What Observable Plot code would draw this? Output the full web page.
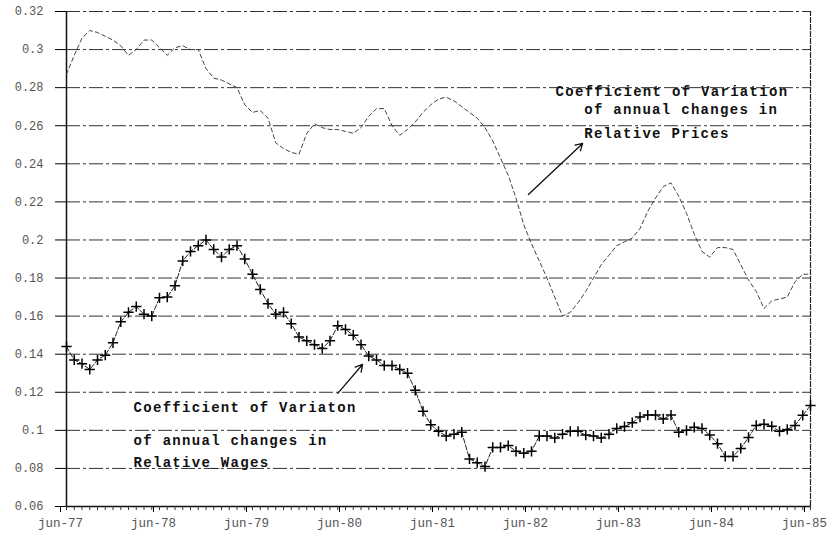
<!DOCTYPE html>
<html>
<head>
<meta charset="utf-8">
<script src="https://cdn.jsdelivr.net/npm/d3@7"></script>
<script src="https://cdn.jsdelivr.net/npm/@observablehq/plot@0.6"></script>
<style>
  html, body { margin: 0; padding: 0; background: #fff; }
  #chart svg { display: block; background: #fff; }
</style>
</head>
<body>
<div id="chart"></div>
<script>
// Monthly observations, jun-77 (index 0) to jun-85 (index 96)
const monthIndex = d3.range(97);

const relativePrices = [
  0.287, 0.297, 0.306, 0.310, 0.309, 0.307, 0.305, 0.302, 0.297, 0.300,
  0.305, 0.305, 0.301, 0.297, 0.301, 0.302, 0.300, 0.300, 0.290, 0.285,
  0.284, 0.282, 0.280, 0.271, 0.267, 0.268, 0.264, 0.251, 0.248, 0.246,
  0.245, 0.256, 0.261, 0.259, 0.258, 0.258, 0.257, 0.256, 0.259, 0.265,
  0.269, 0.269, 0.260, 0.255, 0.258, 0.262, 0.267, 0.271, 0.274, 0.275,
  0.273, 0.270, 0.267, 0.264, 0.259, 0.252, 0.243, 0.234, 0.222, 0.208,
  0.198, 0.189, 0.180, 0.170, 0.160, 0.162, 0.167, 0.173, 0.180, 0.187,
  0.192, 0.197, 0.199, 0.201, 0.206, 0.215, 0.222, 0.228, 0.230, 0.223,
  0.214, 0.203, 0.194, 0.191, 0.196, 0.196, 0.195, 0.187, 0.179, 0.173,
  0.164, 0.168, 0.169, 0.170, 0.178, 0.182, 0.182
];

const relativeWages = [
  0.144, 0.137, 0.135, 0.132, 0.137, 0.1395, 0.146, 0.157, 0.162, 0.165,
  0.161, 0.160, 0.1696, 0.170, 0.176, 0.189, 0.194, 0.197, 0.200, 0.195,
  0.191, 0.195, 0.197, 0.190, 0.182, 0.174, 0.1665, 0.161, 0.162, 0.156,
  0.149, 0.147, 0.145, 0.143, 0.147, 0.155, 0.153, 0.150, 0.145, 0.139,
  0.137, 0.134, 0.134, 0.132, 0.130, 0.121, 0.110, 0.103, 0.0995, 0.097,
  0.098, 0.099, 0.085, 0.083, 0.081, 0.091, 0.091, 0.092, 0.089, 0.088,
  0.089, 0.097, 0.097, 0.096, 0.098, 0.0995, 0.0995, 0.0975, 0.097, 0.096,
  0.098, 0.101, 0.102, 0.104, 0.107, 0.108, 0.108, 0.106, 0.108, 0.099,
  0.100, 0.1016, 0.101, 0.0975, 0.093, 0.0863, 0.0863, 0.0905, 0.0963, 0.1026,
  0.1032, 0.1021, 0.0995, 0.1005, 0.1026, 0.1079, 0.1131
];

const xTickValues = [0, 12, 24, 36, 48, 60, 72, 84, 96];
const xTickLabels = ["jun-77", "jun-78", "jun-79", "jun-80", "jun-81", "jun-82", "jun-83", "jun-84", "jun-85"];

const yTickValues = [0.06, 0.08, 0.1, 0.12, 0.14, 0.16, 0.18, 0.2, 0.22, 0.24, 0.26, 0.28, 0.3, 0.32];
const yTickLabels = ["0.06", "0.08", "0.1", "0.12", "0.14", "0.16", "0.18", "0.2", "0.22", "0.24", "0.26", "0.28", "0.3", "0.32"];

// Annotation text (placed in data coordinates)
const priceNote = [
  {text: "Coefficient of Variation", x: 63.1, y: 0.2780},
  {text: "of annual changes in", x: 66.8, y: 0.2687},
  {text: "Relative Prices", x: 66.8, y: 0.2559}
];
const wageNote = [
  {text: "Coefficient of Variaton", x: 8.65, y: 0.1120},
  {text: "of annual changes in", x: 8.65, y: 0.0947},
  {text: "Relative_Wages", x: 8.65, y: 0.0831}
];
const noteArrows = [
  {x1: 59.6, y1: 0.2239, x2: 66.6, y2: 0.2507},
  {x1: 35.0, y1: 0.1194, x2: 38.2, y2: 0.1346}
];

const prices = monthIndex.map((m, i) => ({m, v: relativePrices[i]}));
const wages = monthIndex.map((m, i) => ({m, v: relativeWages[i]}));

const mono = "'Liberation Mono', 'DejaVu Sans Mono', monospace";

const chart = Plot.plot({
  width: 839,
  height: 546,
  marginLeft: 66,
  marginRight: 29,
  marginTop: 11,
  marginBottom: 40,
  style: {background: "#fff", fontFamily: mono},
  x: {domain: [0, 96]},
  y: {domain: [0.06, 0.32]},
  marks: [
    // dashed horizontal gridlines
    Plot.ruleY(yTickValues.filter(v => v > 0.07), {
      stroke: "#333", strokeWidth: 1, strokeDasharray: "14,3,3,3"
    }),
    // frame: bottom axis line, left and right verticals
    Plot.ruleY([0.06], {stroke: "#111", strokeWidth: 1.5}),
    Plot.ruleX([0], {y1: 0.06, y2: 0.32, stroke: "#111", strokeWidth: 1.5}),
    Plot.ruleX([96], {y1: 0.06, y2: 0.32, stroke: "#222", strokeWidth: 1.2, strokeDasharray: "6,1"}),
    // x axis: monthly minor ticks + yearly labels
    Plot.axisX(monthIndex, {tickSize: 4, tickFormat: () => "", stroke: "#333"}),
    Plot.axisX(xTickValues, {
      tickSize: 6, tickPadding: 6, dx: -6,
      tickFormat: d => xTickLabels[xTickValues.indexOf(d)],
      fontSize: 12.5, fill: "#555", fontFamily: mono
    }),
    // y axis
    Plot.axisY(yTickValues, {
      tickSize: 11, tickPadding: 12,
      tickFormat: d => yTickLabels[yTickValues.indexOf(d)],
      fontSize: 12, fill: "#555", fontFamily: mono
    }),
    // relative prices series (dashed line)
    Plot.line(prices, {x: "m", y: "v", stroke: "#444", strokeWidth: 1, strokeDasharray: "4,3"}),
    // relative wages series (line with + markers)
    Plot.line(wages, {x: "m", y: "v", stroke: "#222", strokeWidth: 1, strokeDasharray: "5,2"}),
    Plot.dot(wages, {x: "m", y: "v", symbol: "plus", r: 3.4, stroke: "#000", strokeWidth: 1.5}),
    // annotations
    Plot.text(priceNote, {x: "x", y: "y", text: "text", textAnchor: "start", fontSize: 14, fill: "#111", fontFamily: mono}),
    Plot.text(wageNote, {x: "x", y: "y", text: "text", textAnchor: "start", fontSize: 14, fill: "#111", fontFamily: mono}),
    Plot.arrow(noteArrows, {x1: "x1", y1: "y1", x2: "x2", y2: "y2", stroke: "#111", strokeWidth: 1.3, headLength: 9})
  ]
});

// widen the typewriter-style annotation lettering
d3.select(chart).selectAll("g[aria-label='text'] text")
  .attr("letter-spacing", "1.3px")
  .style("font-weight", "600");

document.getElementById("chart").appendChild(chart);
</script>
</body>
</html>
